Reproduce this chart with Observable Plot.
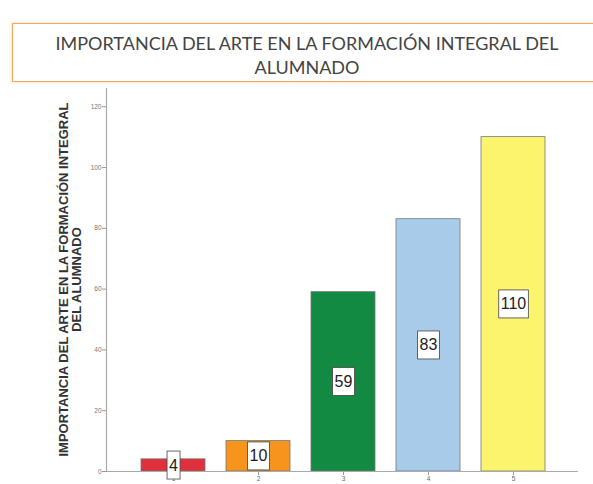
<!DOCTYPE html>
<html>
<head>
<meta charset="utf-8">
<script src="https://cdn.jsdelivr.net/npm/d3@7"></script>
<script src="https://cdn.jsdelivr.net/npm/@observablehq/plot@0.6"></script>
<style>
  html, body { margin: 0; padding: 0; background: #fff; width: 593px; height: 484px; overflow: hidden; }
  #title {
    position: absolute; left: 12px; top: 23px; width: 590px; height: 59px;
    border: 1.5px solid #f0a860; box-sizing: border-box; background: #fff;
    box-shadow: 0 0 3px #fbd9b0;
    font-family: Lato, "Open Sans", sans-serif; font-size: 18px; color: #444;
    text-align: center; line-height: 24px; padding-top: 7px;
  }
  #chart { position: absolute; left: 0; top: 85px; }
</style>
</head>
<body>
<div id="title">IMPORTANCIA DEL ARTE EN LA FORMACIÓN INTEGRAL DEL<br>ALUMNADO</div>
<div id="chart"></div>
<script>
const categories = ["1", "2", "3", "4", "5"];
const counts = [4, 10, 59, 83, 110];
const colors = ["#e0303c", "#f7941d", "#138a42", "#a8cbea", "#fbf46c"];
const yTicks = [0, 20, 40, 60, 80, 100, 120];
const yTitleLines = ["IMPORTANCIA DEL ARTE EN LA FORMACIÓN INTEGRAL", "DEL ALUMNADO"];

const data = categories.map((c, i) => ({cat: c, n: counts[i], color: colors[i]}));

const chart = Plot.plot({
  width: 593,
  height: 399,
  marginLeft: 107,
  marginRight: 15,
  marginTop: 3,
  marginBottom: 13,
  style: {fontFamily: "Arial, 'Liberation Sans', sans-serif", background: "transparent", overflow: "visible"},
  x: {domain: categories, paddingInner: 0.25, paddingOuter: 0.387, label: null, axis: null},
  y: {domain: [0, 126], label: null, axis: null},
  marks: [
    Plot.barY(data, {x: "cat", y: "n", fill: "color", stroke: "#777", strokeWidth: 0.8}),
    Plot.axisX({tickSize: 4, tickPadding: 1, fontSize: 6.5, color: "#666", stroke: "#999"}),
    Plot.axisY({ticks: yTicks, tickSize: 5, tickPadding: 1, fontSize: 6.5, color: "#777", stroke: "#999"}),
    Plot.ruleY([0], {stroke: "#aaa", strokeWidth: 1.2}),
    Plot.text(data, {x: "cat", y: d => d.n / 2, text: d => String(d.n), fontSize: 16, fill: "#222", className: "vlabel"})
  ]
});
document.getElementById("chart").appendChild(chart);

// y axis line (left frame)
const svg = d3.select(chart);
const yS = chart.scale("y");
svg.append("line")
  .attr("x1", 106.5).attr("x2", 106.5)
  .attr("y1", yS.apply(126)).attr("y2", yS.apply(0))
  .attr("stroke", "#aaa").attr("stroke-width", 1.2);

// y axis title (two rotated lines)
const yt = svg.append("text")
  .attr("transform", `translate(0, ${(yS.apply(0) + yS.apply(126)) / 2}) rotate(-90)`)
  .attr("text-anchor", "middle")
  .attr("font-family", "Arial, 'Liberation Sans', sans-serif")
  .attr("font-weight", "bold").attr("font-size", 13).attr("fill", "#333");
yTitleLines.forEach((t, i) => {
  yt.append("tspan").attr("x", 0).attr("y", 68 + i * 12.5).text(t);
});

// white boxes behind value labels
svg.selectAll(".vlabel text").each(function() {
  const b = this.getBBox();
  const padX = 2, h = 28;
  const r = d3.select(this.parentNode).insert("rect", () => this)
    .attr("x", b.x - padX).attr("y", b.y + b.height / 2 - h / 2)
    .attr("width", b.width + 2 * padX).attr("height", h)
    .attr("fill", "#fff").attr("stroke", "#444").attr("stroke-width", 0.8);
  const tf = this.getAttribute("transform");
  if (tf) r.attr("transform", tf);
});
</script>
</body>
</html>
